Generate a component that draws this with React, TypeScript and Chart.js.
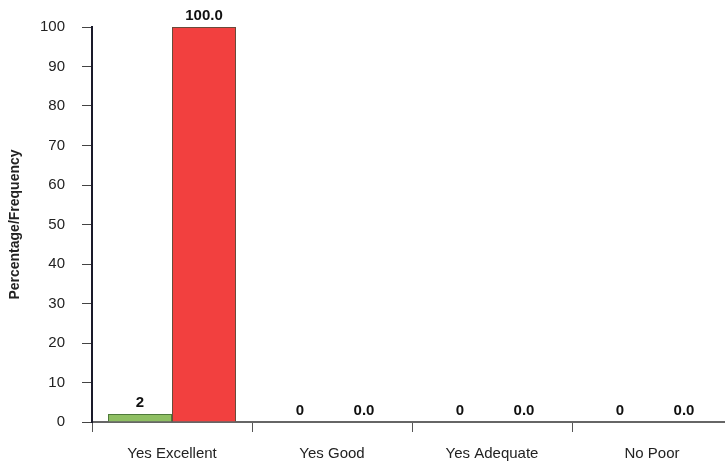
import React, { useEffect, useRef } from "react";
import { Chart, registerables } from "chart.js";

Chart.register(...registerables);

const categories = ["Yes Excellent", "Yes Good", "Yes Adequate", "No Poor"];
const frequencyValues = [2, 0, 0, 0];
const percentageValues = [100.0, 0.0, 0.0, 0.0];
const yTicks = [0, 10, 20, 30, 40, 50, 60, 70, 80, 90, 100];

const valueLabelPlugin = {
  id: "valueLabels",
  afterDatasetsDraw(chart: any) {
    const ctx = chart.ctx;
    ctx.save();
    ctx.font = "bold 15px 'Liberation Sans', Arial, sans-serif";
    ctx.fillStyle = "#111";
    ctx.textAlign = "center";
    ctx.textBaseline = "bottom";
    chart.data.datasets.forEach((ds: any, di: number) => {
      const meta = chart.getDatasetMeta(di);
      meta.data.forEach((el: any, i: number) => {
        const v = ds.data[i];
        const txt = di === 0 ? String(Math.round(v)) : v.toFixed(1);
        ctx.fillText(txt, el.x, el.y - 4);
      });
    });
    ctx.restore();
  },
};

export default function App() {
  const ref = useRef<HTMLCanvasElement>(null);
  useEffect(() => {
    document.body.style.margin = "0";
    const chart = new Chart(ref.current!, {
      type: "bar",
      data: {
        labels: categories,
        datasets: [
          {
            label: "Frequency",
            data: frequencyValues,
            backgroundColor: "#8fbf63",
            borderColor: "#4f7a3a",
            borderWidth: 1,
            categoryPercentage: 0.8,
            barPercentage: 1,
          },
          {
            label: "Percentage",
            data: percentageValues,
            backgroundColor: "#f2403f",
            borderColor: "#6a4a3a",
            borderWidth: 1,
            categoryPercentage: 0.8,
            barPercentage: 1,
          },
        ],
      },
      options: {
        animation: false,
        responsive: false,
        maintainAspectRatio: false,
        layout: { padding: { top: 27, left: 0, right: 0, bottom: 0 } },
        plugins: { legend: { display: false }, tooltip: { enabled: false } },
        scales: {
          x: {
            grid: {
              display: true,
              drawOnChartArea: false,
              offset: true,
              tickLength: 10,
              color: "#555",
              lineWidth: 1,
            },
            border: { display: true, color: "#666", width: 2 },
            ticks: {
              color: "#222",
              padding: 13,
              font: { family: "'Liberation Sans', Arial, sans-serif", size: 15 },
            },
            afterFit: (s: any) => {
              s.height = 40;
            },
          },
          y: {
            min: 0,
            max: 100,
            afterBuildTicks: (s: any) => {
              s.ticks = yTicks.map((v) => ({ value: v }));
            },
            grid: {
              display: true,
              drawOnChartArea: false,
              tickLength: 10,
              color: "#444",
              lineWidth: 1,
            },
            border: { display: true, color: "#1a1a2a", width: 2 },
            ticks: {
              color: "#222",
              padding: 17,
              font: { family: "'Liberation Sans', Arial, sans-serif", size: 15 },
            },
            title: {
              display: true,
              text: "Percentage/Frequency",
              color: "#222",
              padding: { top: 7, bottom: 0 },
              font: { family: "'Liberation Sans', Arial, sans-serif", size: 14, weight: "bold" },
            },
            afterFit: (s: any) => {
              s.width = 92;
            },
          },
        },
      },
      plugins: [valueLabelPlugin],
    });
    return () => chart.destroy();
  }, []);
  return (
    <div
      style={{
        position: "fixed",
        left: 0,
        top: 0,
        width: 725,
        height: 462,
        overflow: "hidden",
        background: "#fff",
      }}
    >
      <canvas ref={ref} width={732} height={462} style={{ display: "block" }} />
    </div>
  );
}
